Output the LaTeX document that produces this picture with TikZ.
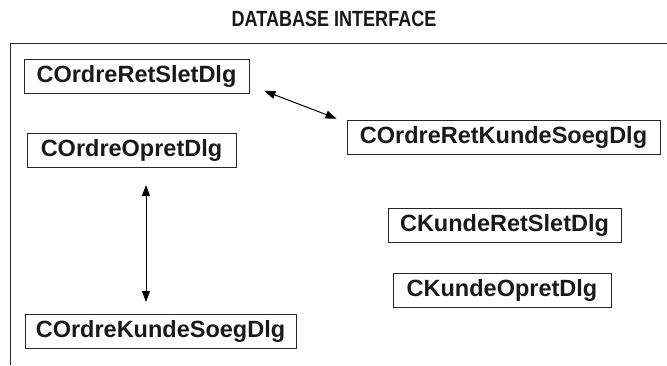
\documentclass[tikz,border=0pt]{standalone}
\usepackage{fontspec}
\setmainfont{Liberation Sans}
\usetikzlibrary{arrows.meta,calc}
\tikzset{
  dlgbox/.style={draw=black!85, line width=0.9pt, inner xsep=0pt, inner ysep=0pt,
    minimum height=34pt, font=\fontsize{23.5}{26}\selectfont\bfseries, text=black!90},
  link/.style={line width=1pt, {Triangle[length=11pt,width=8pt]}-{Triangle[length=11pt,width=8pt]}},
  frame/.style={line width=1pt, draw=black!85}
}
\begin{document}
\begin{tikzpicture}[x=1pt,y=-1pt]
  \useasboundingbox (0,0) rectangle (667,365);
  % title and open frame
  \node[font=\fontsize{22}{26}\selectfont\bfseries, text=black!90] (title) at (334,19)
    {\scalebox{0.82}[1]{DATABASE INTERFACE}};
  \coordinate (fr) at (667,43);
  \coordinate (fc) at (10,43);
  \coordinate (fb) at (10,365);
  \draw[frame] (fr) -- (fc) -- (fb);
  % dialog classes
  \node[dlgbox, minimum width=225pt] (retslet) at (136.5,76.5) {COrdreRetSletDlg};
  \node[dlgbox, minimum width=209pt] (opret) at (131.5,150.5) {COrdreOpretDlg};
  \node[dlgbox, minimum width=313pt] (retkunde) at (503.5,137) {COrdreRetKundeSoegDlg};
  \node[dlgbox, minimum width=233pt] (kretslet) at (504.5,225) {CKundeRetSletDlg};
  \node[dlgbox, minimum width=218pt] (kopret) at (502,290) {CKundeOpretDlg};
  \node[dlgbox, minimum width=271pt] (kundesoeg) at (160.5,331) {COrdreKundeSoegDlg};
  % associations
  \coordinate (a1) at ($(retslet.south east)+(15,-3)$);
  \coordinate (a2) at ($(retkunde.north west)+(-10,-1)$);
  \draw[link] (a1) -- (a2);
  \coordinate (b1) at (146,185);
  \coordinate (b2) at (146,302);
  \draw[link] (b1) -- (b2);
\end{tikzpicture}
\end{document}
